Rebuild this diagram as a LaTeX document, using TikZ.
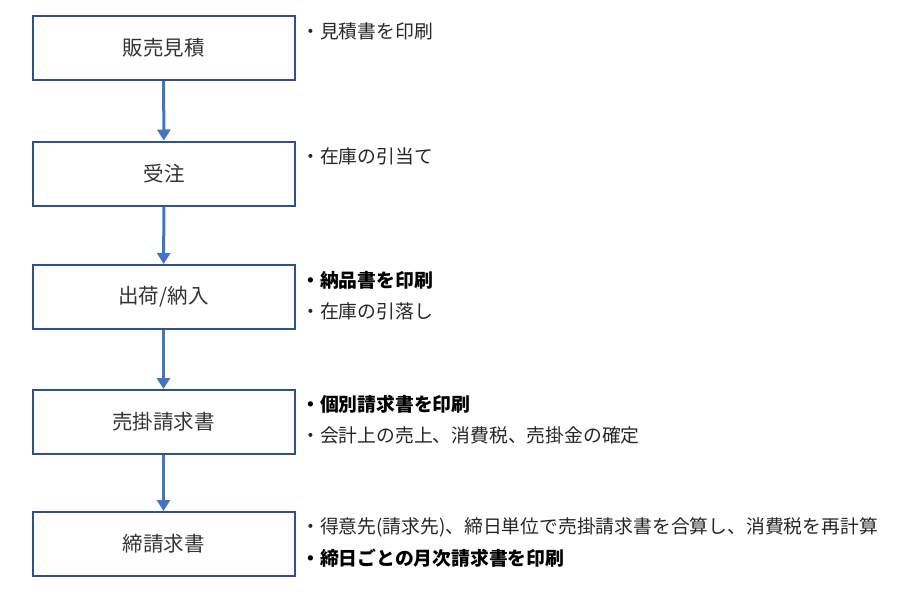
\documentclass[tikz,border=0pt]{standalone}
\usepackage{fontspec}
\usepackage{tikz}
\usetikzlibrary{arrows.meta}
\newfontfamily\jp{Noto Sans CJK JP}
\definecolor{boxline}{HTML}{2F528F}
\definecolor{flowline}{HTML}{4472C4}
\tikzset{
  stepbox/.style={draw=boxline,line width=2pt,minimum width=262pt,minimum height=64pt,inner sep=0pt,font=\jp\fontsize{20.5}{20.5}\selectfont,text=black!80},
  note/.style={anchor=west,inner sep=0pt,font=\jp\fontsize{18.8}{18.8}\selectfont,text=black!85},
  boldnote/.style={note,font=\jp\bfseries\fontsize{18.8}{18.8}\selectfont,text=black},
  flow/.style={draw=flowline,line width=3pt,-{Triangle[length=11pt,width=13pt]}}
}
\begin{document}
\begin{tikzpicture}[x=1pt,y=-1pt]
\useasboundingbox (0,0) rectangle (898,600);
\path (163.5,48) node[stepbox] (b1) {販売見積};
\path (164,173.5) node[stepbox] (b2) {受注};
\path (163.5,297) node[stepbox] (b3) {出荷/納入};
\path (163.5,422) node[stepbox] (b4) {売掛請求書};
\path (163.5,544) node[stepbox] (b5) {締請求書};

\draw[flow] (b1) -- (b2);
\draw[flow] (b2) -- (b3);
\draw[flow] (b3) -- (b4);
\draw[flow] (b4) -- (b5);

\path (301,31) node[note] (n1) {・見積書を印刷};
\path (301,156) node[note] (n2) {・在庫の引当て};
\path (301,280) node[boldnote] (n3) {・納品書を印刷};
\path (301,311) node[note] (n4) {・在庫の引落し};
\path (301,404) node[boldnote] (n5) {・個別請求書を印刷};
\path (301,435) node[note] (n6) {・会計上の売上、消費税、売掛金の確定};
\path (301,527) node[note] (n7) {・得意先(請求先)、締日単位で売掛請求書を合算し、消費税を再計算};
\path (301,558) node[boldnote] (n8) {・締日ごとの月次請求書を印刷};
\end{tikzpicture}
\end{document}
